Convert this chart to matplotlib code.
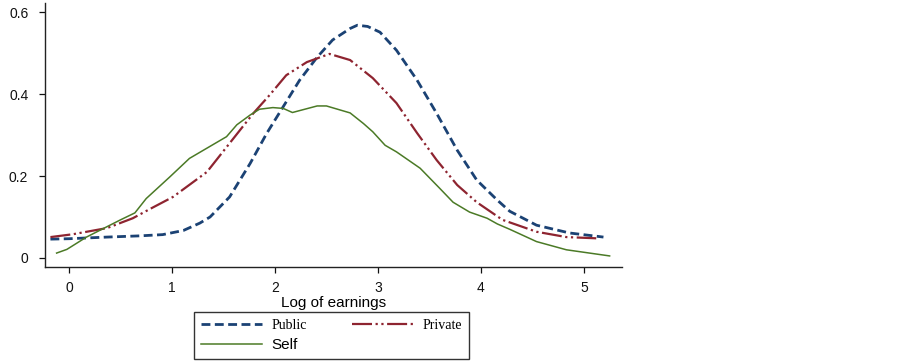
import matplotlib
matplotlib.use("Agg")
import matplotlib.pyplot as plt

plt.rcParams['font.family'] = ['Liberation Sans', 'DejaVu Sans']

# Public sector (blue dashed)
public_x = [-0.18, 0.0, 0.37, 0.69, 0.91, 1.11, 1.27, 1.37, 1.56, 1.76, 1.92, 2.08, 2.24, 2.41, 2.56, 2.73,
            2.80, 2.90, 3.02, 3.18, 3.38, 3.57, 3.77, 3.96, 4.16, 4.28, 4.54, 4.86, 5.19]
public_y = [0.046, 0.047, 0.051, 0.054, 0.057, 0.067, 0.085, 0.100, 0.149, 0.231, 0.304, 0.369, 0.434, 0.490,
            0.532, 0.560, 0.568, 0.565, 0.551, 0.507, 0.434, 0.353, 0.263, 0.190, 0.141, 0.114, 0.080, 0.061, 0.051]

# Private sector (red dash-dot-dot)
private_x = [-0.18, 0.04, 0.37, 0.62, 0.79, 1.01, 1.34, 1.56, 1.79, 1.95, 2.11, 2.31, 2.53, 2.73, 2.95,
             3.18, 3.38, 3.57, 3.77, 3.96, 4.21, 4.54, 4.83, 5.12]
private_y = [0.051, 0.058, 0.073, 0.097, 0.120, 0.149, 0.210, 0.280, 0.353, 0.398, 0.446, 0.478, 0.498,
             0.483, 0.439, 0.378, 0.305, 0.239, 0.178, 0.136, 0.093, 0.064, 0.051, 0.048]

# Self-employed (green solid)
self_x = [-0.12, -0.02, 0.17, 0.50, 0.64, 0.75, 0.98, 1.17, 1.53, 1.63, 1.76, 1.85, 1.98, 2.08, 2.17,
          2.41, 2.50, 2.73, 2.86, 2.95, 3.07, 3.18, 3.41, 3.60, 3.73, 3.89, 4.06, 4.16, 4.28, 4.54, 4.83, 5.25]
self_y = [0.012, 0.021, 0.051, 0.093, 0.110, 0.145, 0.198, 0.243, 0.296, 0.325, 0.349, 0.363, 0.367, 0.365,
          0.355, 0.371, 0.371, 0.354, 0.328, 0.308, 0.275, 0.259, 0.219, 0.170, 0.136, 0.112, 0.097, 0.083,
          0.070, 0.040, 0.020, 0.005]

x_ticks = [0, 1, 2, 3, 4, 5]
y_ticks = [0, 0.2, 0.4, 0.6]
y_ticklabels = ['0', '0.2', '0.4', '0.6']

fig = plt.figure(figsize=(9.03, 3.64), dpi=100)
ax = fig.add_axes([0.0498, 0.2665, 0.639, 0.725])

l1, = ax.plot(public_x, public_y, color='#1b4274', lw=2.0, linestyle=(0, (3.2, 1.6)), label='Public')
l2, = ax.plot(private_x, private_y, color='#8e2430', lw=1.6, linestyle=(0, (9, 1.6, 1, 1.6, 1, 1.6)), label='Private')
l3, = ax.plot(self_x, self_y, color='#4b7a26', lw=1.1, label='Self')

ax.set_xlim(-0.233, 5.37)
ax.set_ylim(-0.022, 0.622)
ax.set_xticks(x_ticks)
ax.set_xticklabels([str(t) for t in x_ticks])
ax.set_yticks(y_ticks)
ax.set_yticklabels(y_ticklabels)
ax.spines['top'].set_visible(False)
ax.spines['right'].set_visible(False)
for s in ['left', 'bottom']:
    ax.spines[s].set_linewidth(1.0)
    ax.spines[s].set_color('#222222')
ax.tick_params(axis='both', direction='out', length=4, width=0.9, labelsize=10, colors='#111111')
ax.tick_params(axis='y', pad=8)
ax.tick_params(axis='x', pad=6)
ax.set_xlabel('Log of earnings', fontsize=11, labelpad=1)

leg = fig.legend([l1, l3, l2], ['Public', 'Self', 'Private'], ncol=2,
                 loc='upper left',
                 bbox_to_anchor=(194/903, 1 - 312/364),
                 borderaxespad=0,
                 frameon=True, fancybox=False, edgecolor='black', fontsize=10,
                 handlelength=4.4, columnspacing=3.3, handletextpad=0.65,
                 borderpad=0.5, labelspacing=0.45)
leg.get_frame().set_linewidth(1.0)
for t in leg.get_texts():
    if t.get_text() in ('Public', 'Private'):
        t.set_fontfamily('Liberation Serif')
    else:
        t.set_fontsize(11)

fig.savefig('out.png', dpi=100)
